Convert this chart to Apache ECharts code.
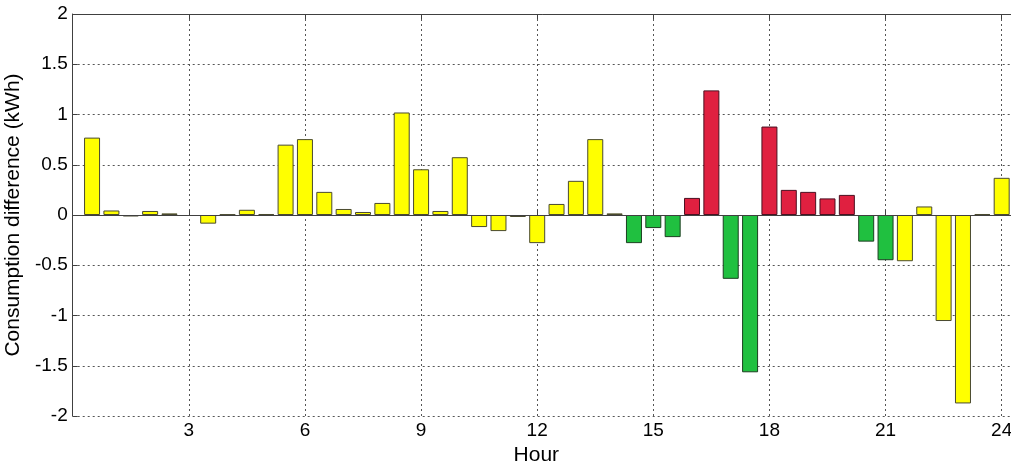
<!DOCTYPE html>
<html>
<head>
<meta charset="utf-8">
<script src="https://cdn.jsdelivr.net/npm/echarts@6/dist/echarts.min.js"></script>
<style>
html,body{margin:0;padding:0;background:#fff;}
#chart{width:1011px;height:463px;}
</style>
</head>
<body>
<div id="chart"></div>
<script>
// Half-hour slots (hour of day at bar centre)
const hours = [0.5,1,1.5,2,2.5,3,3.5,4,4.5,5,5.5,6,6.5,7,7.5,8,8.5,9,9.5,10,10.5,11,11.5,12,
               12.5,13,13.5,14,14.5,15,15.5,16,16.5,17,17.5,18,18.5,19,19.5,20,20.5,21,21.5,22,22.5,23,23.5,24];
// Consumption difference (kWh)
const values = [0.77,0.045,-0.015,0.04,0.016,-0.01,-0.086,0.006,0.052,0.01,0.70,0.755,0.23,0.06,0.03,0.12,1.02,0.455,0.04,0.575,-0.12,-0.16,-0.02,-0.28,
                0.11,0.34,0.755,0.016,-0.28,-0.13,-0.22,0.17,1.24,-0.635,-1.565,0.88,0.25,0.23,0.165,0.20,-0.265,-0.45,-0.46,0.085,-1.055,-1.875,0.01,0.37];
// Group of each slot
const groups = ['N','N','N','N','N','N','N','N','N','N','N','N','N','N','N','N','N','N','N','N','N','N','N','N',
                'N','N','N','N','G','G','G','R','R','G','G','R','R','R','R','R','G','G','N','N','N','N','N','N'];
const xTicks = [3,6,9,12,15,18,21,24];
const yTicks = [-2,-1.5,-1,-0.5,0,0.5,1,1.5,2];

const palette = {
  N: {color:'#ffff00', borderColor:'#4a4a30'},
  G: {color:'#20c040', borderColor:'#1c3f20'},
  R: {color:'#e02040', borderColor:'#4a1020'}
};

const data = hours.map((h,i)=>({
  value:[h, values[i]],
  itemStyle:{color:palette[groups[i]].color, borderColor:palette[groups[i]].borderColor, borderWidth:1}
}));

const font = 'Liberation Sans, Arial, sans-serif';
const chart = echarts.init(document.getElementById('chart'), null, {renderer:'canvas'});
chart.setOption({
  animation:false,
  backgroundColor:'#fff',
  grid:{left:72.7, right:-5, top:14, bottom:47, containLabel:false, outerBoundsMode:'none', show:false},
  xAxis:[{
    type:'value', min:0, max:24.37, interval:3, position:'bottom',
    name:'Hour', nameLocation:'middle', nameGap:24,
    nameTextStyle:{fontFamily:font, fontSize:21, color:'#000', padding:[0,16,0,0]},
    axisLine:{show:true, lineStyle:{color:'#404040', width:1}},
    axisTick:{show:true, inside:true, length:5, lineStyle:{color:'#404040'}},
    axisLabel:{fontFamily:font, fontSize:19, color:'#000', margin:5,
      formatter:v=> xTicks.includes(v) ? String(v) : ''},
    splitLine:{show:true, lineStyle:{color:'#555', type:[2,3], width:1}}
  },{
    type:'value', min:0, max:24.37, interval:3, position:'top',
    axisLine:{show:true, lineStyle:{color:'#404040', width:1}},
    axisTick:{show:true, inside:true, length:5, lineStyle:{color:'#404040'}},
    axisLabel:{show:false}, splitLine:{show:false}
  }],
  yAxis:{
    type:'value', min:-2, max:2, interval:0.5,
    name:'Consumption difference (kWh)', nameLocation:'middle', nameGap:44, nameRotate:90,
    nameTextStyle:{fontFamily:font, fontSize:21, color:'#000'},
    axisLine:{show:true, lineStyle:{color:'#404040', width:1}},
    axisTick:{show:true, inside:true, length:5, lineStyle:{color:'#404040'}},
    axisLabel:{fontFamily:font, fontSize:19, color:'#000', margin:5,
      formatter:v=> yTicks.includes(v) ? String(v) : ''},
    splitLine:{show:true, lineStyle:{color:'#555', type:[2,3], width:1}}
  },
  series:[{
    type:'bar', xAxisIndex:0, data:data, barWidth:16,
    markLine:{silent:true, symbol:'none', label:{show:false},
      lineStyle:{color:'#404040', type:'solid', width:1}, data:[{yAxis:0}]}
  }]
});
</script>
</body>
</html>
